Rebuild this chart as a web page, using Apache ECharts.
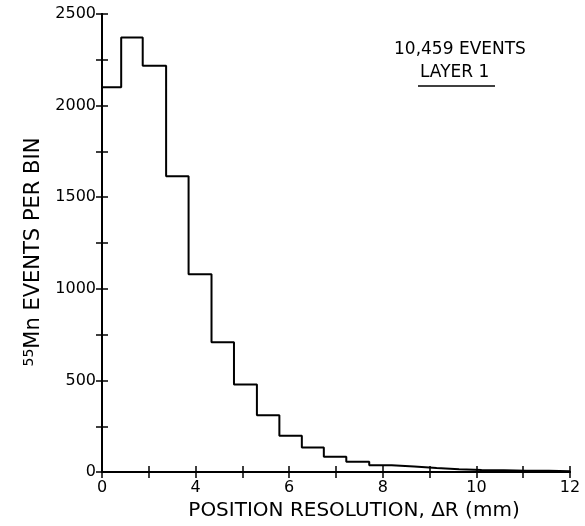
<!DOCTYPE html>
<html>
<head>
<meta charset="utf-8">
<script src="https://cdn.jsdelivr.net/npm/echarts@6/dist/echarts.min.js"></script>
<style>
  html, body { margin: 0; padding: 0; background: #fff; }
  #chart { width: 585px; height: 526px; }
</style>
</head>
<body>
<div id="chart"></div>
<script>
// bin edges along the x axis (in tick units, ticks 0..10)
const binEdges = [0, 0.41, 0.87, 1.37, 1.85, 2.34, 2.82, 3.31, 3.79, 4.27, 4.74, 5.22, 5.71,
    6.19, 6.67, 7.15, 7.63, 8.11, 8.59, 9.07, 9.55, 10.0];
// events per bin
const binCounts = [2100, 2372, 2218, 1615, 1080, 708, 478, 310, 198, 134, 84, 57,
    38, 31, 23, 16, 12, 10, 8, 7, 5];
// tick labels as printed on the figure
const xTickLabels = ['0', '', '4', '', '6', '', '8', '', '10', '', '12'];
const yTickLabels = ['0', '500', '1000', '1500', '2000', '2500'];

const font = 'DejaVu Sans';

// step line: each count holds from its left edge to the next edge
const stepData = binCounts.map((c, i) => [binEdges[i], c]);
stepData.push([binEdges[binEdges.length - 1], binCounts[binCounts.length - 1]]);

const chart = echarts.init(document.getElementById('chart'));

const axisLine = { show: true, lineStyle: { color: '#000', width: 2 } };
const axisTick = { show: true, inside: true, length: 6, lineStyle: { color: '#000', width: 1.5 } };

option = {
    backgroundColor: '#fff',
    animation: false,
    grid: {
        left: 102,
        right: 15,
        top: 14,
        bottom: 52
    },
    xAxis: [{
        type: 'value',
        min: 0,
        max: 10,
        interval: 1,
        axisLine: axisLine,
        axisTick: axisTick,
        splitLine: { show: false },
        axisLabel: {
            color: '#000',
            fontFamily: font,
            fontSize: 16,
            margin: 8,
            formatter: v => xTickLabels[Math.round(v)] || ''
        },
        name: 'POSITION RESOLUTION, \u0394R (mm)',
        nameLocation: 'middle',
        nameGap: 25,
        nameTextStyle: { color: '#000', fontFamily: font, fontSize: 20, padding: [0, 0, 0, 36] }
    }, {
        type: 'value',
        position: 'top',
        min: 0,
        max: 10,
        interval: 1,
        axisLine: axisLine,
        axisTick: axisTick,
        axisLabel: { show: false },
        splitLine: { show: false }
    }],
    yAxis: [{
        type: 'value',
        min: 0,
        max: 2500,
        interval: 250,
        axisLine: axisLine,
        axisTick: axisTick,
        splitLine: { show: false },
        axisLabel: {
            color: '#000',
            fontFamily: font,
            fontSize: 16,
            margin: 6,
            formatter: v => yTickLabels.includes(String(v)) ? String(v) : ''
        },
        name: '{sup|55}{base|Mn EVENTS PER BIN}',
        nameLocation: 'middle',
        nameGap: 56,
        nameTextStyle: {
            color: '#000',
            padding: [0, 18, 0, 0],
            rich: {
                sup: { fontFamily: font, fontSize: 14, verticalAlign: 'bottom', padding: [0, 0, 10, 0], color: '#000' },
                base: { fontFamily: font, fontSize: 21, color: '#000' }
            }
        }
    }, {
        type: 'value',
        position: 'right',
        min: 0,
        max: 2500,
        interval: 250,
        axisLine: axisLine,
        axisTick: axisTick,
        axisLabel: { show: false },
        splitLine: { show: false }
    }],
    graphic: [{
        type: 'text',
        left: 394,
        top: 41,
        style: { text: '10,459 EVENTS', fill: '#000', font: '17px "DejaVu Sans"' }
    }, {
        type: 'text',
        left: 420,
        top: 64,
        style: { text: 'LAYER 1', fill: '#000', font: '17px "DejaVu Sans"' }
    }, {
        type: 'line',
        shape: { x1: 418, y1: 86, x2: 495, y2: 86 },
        style: { stroke: '#000', lineWidth: 1.5 }
    }],
    series: [{
        type: 'line',
        step: 'end',
        data: stepData,
        showSymbol: false,
        lineStyle: { color: '#000', width: 2 }
    }]
};

chart.setOption(option);
</script>
</body>
</html>
